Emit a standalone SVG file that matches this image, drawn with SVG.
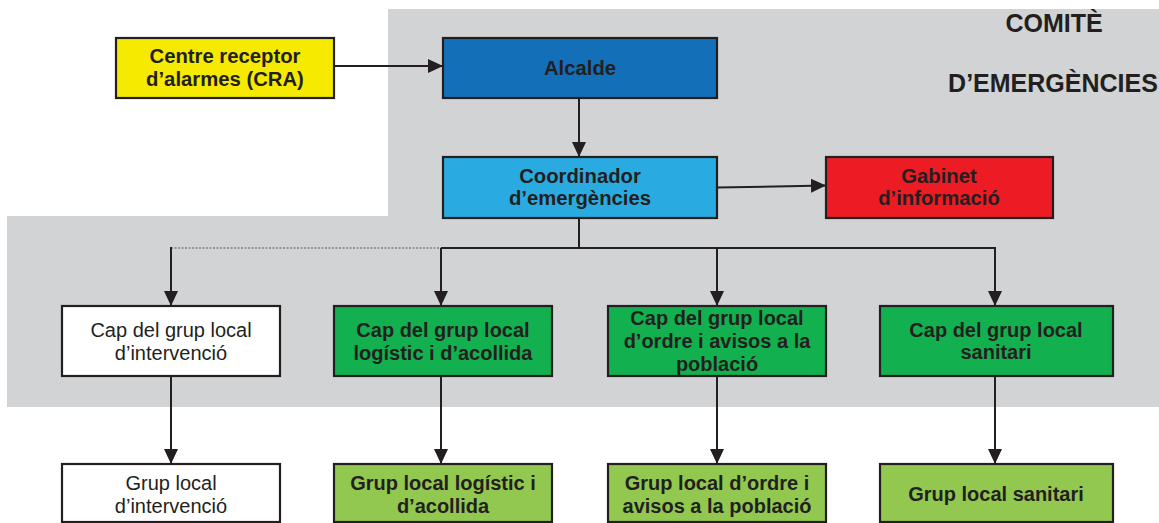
<svg xmlns="http://www.w3.org/2000/svg" width="1159" height="523" viewBox="0 0 1159 523">
<defs>
<style>
.box{stroke:#231f20;stroke-width:2.2}
.t{font-family:"Liberation Sans",Arial,sans-serif;font-weight:bold;fill:#231f20;text-anchor:middle}
.top{font-size:20.3px}
.low{font-size:20px}
.reg{font-weight:normal}
.ttl{font-size:25px}
.ln{stroke:#231f20;stroke-width:2;fill:none}
.dash{stroke:#555;stroke-width:1.2;stroke-dasharray:2 1.5;fill:none}
</style>
<marker id="ah" markerUnits="userSpaceOnUse" markerWidth="16" markerHeight="14" refX="15" refY="7" orient="auto">
<path d="M0,0 L15,7 L0,14 Z" fill="#231f20"/>
</marker>
</defs>
<rect width="1159" height="523" fill="#fff"/>
<polygon points="388,9 1159,9 1159,407 7,407 7,216 388,216" fill="#d1d3d4"/>
<g id="title">
<text class="t ttl" x="1054" y="32">COMITÈ</text>
<text class="t ttl" x="1053" y="92">D’EMERGÈNCIES</text>
</g>
<g id="connectors">
<line class="ln" x1="334" y1="66" x2="443" y2="66" marker-end="url(#ah)"/>
<line class="ln" x1="579" y1="99" x2="579" y2="157" marker-end="url(#ah)"/>
<line class="ln" x1="717" y1="187.5" x2="826" y2="185.5" marker-end="url(#ah)"/>
<polyline class="ln" points="579,218 579,248 441,248"/>
<line class="dash" x1="171" y1="248" x2="441" y2="248"/>
<line class="ln" x1="579" y1="248" x2="995" y2="248"/>
<line class="ln" x1="171" y1="247" x2="171" y2="306" marker-end="url(#ah)"/>
<line class="ln" x1="441" y1="248" x2="441" y2="306" marker-end="url(#ah)"/>
<line class="ln" x1="717" y1="248" x2="717" y2="306" marker-end="url(#ah)"/>
<line class="ln" x1="995" y1="247" x2="995" y2="306" marker-end="url(#ah)"/>
<line class="ln" x1="171" y1="376" x2="171" y2="464" marker-end="url(#ah)"/>
<line class="ln" x1="441" y1="376" x2="441" y2="464" marker-end="url(#ah)"/>
<line class="ln" x1="717" y1="376" x2="717" y2="464" marker-end="url(#ah)"/>
<line class="ln" x1="995" y1="376" x2="995" y2="464" marker-end="url(#ah)"/>
</g>
<g id="cra">
<rect class="box" x="116" y="38" width="218" height="60" fill="#f5ea00"/>
<text class="t top" x="225" y="63">Centre receptor</text>
<text class="t top" x="225" y="86">d’alarmes (CRA)</text>
</g>
<g id="alcalde">
<rect class="box" x="443" y="38" width="274" height="60" fill="#136fb8"/>
<text class="t top" x="580" y="75">Alcalde</text>
</g>
<g id="coordinador">
<rect class="box" x="443" y="157" width="274" height="61" fill="#29abe2"/>
<text class="t top" x="580" y="183">Coordinador</text>
<text class="t top" x="580" y="205">d’emergències</text>
</g>
<g id="gabinet">
<rect class="box" x="826" y="157" width="227" height="61" fill="#ed1c24"/>
<text class="t top" x="939" y="183">Gabinet</text>
<text class="t top" x="939" y="205">d’informació</text>
</g>
<g id="cap-intervencio">
<rect class="box" x="62" y="306" width="218" height="70" fill="#fff"/>
<text class="t low reg" x="171" y="337">Cap del grup local</text>
<text class="t low reg" x="171" y="360">d’intervenció</text>
</g>
<g id="cap-logistic">
<rect class="box" x="334" y="306" width="218" height="70" fill="#12b04f"/>
<text class="t low" x="443" y="337">Cap del grup local</text>
<text class="t low" x="443" y="360">logístic i d’acollida</text>
</g>
<g id="cap-ordre">
<rect class="box" x="608" y="306" width="218" height="70" fill="#12b04f"/>
<text class="t low" x="717" y="325">Cap del grup local</text>
<text class="t low" x="717" y="348">d’ordre i avisos a la</text>
<text class="t low" x="717" y="371">població</text>
</g>
<g id="cap-sanitari">
<rect class="box" x="880" y="306" width="233" height="70" fill="#12b04f"/>
<text class="t low" x="996" y="337">Cap del grup local</text>
<text class="t low" x="996" y="359">sanitari</text>
</g>
<g id="grup-intervencio">
<rect class="box" x="62" y="464" width="218" height="58" fill="#fff"/>
<text class="t low reg" x="171" y="490">Grup local</text>
<text class="t low reg" x="171" y="513">d’intervenció</text>
</g>
<g id="grup-logistic">
<rect class="box" x="334" y="464" width="218" height="58" fill="#92c84f"/>
<text class="t low" x="443" y="490">Grup local logístic i</text>
<text class="t low" x="443" y="513">d’acollida</text>
</g>
<g id="grup-ordre">
<rect class="box" x="608" y="464" width="218" height="58" fill="#92c84f"/>
<text class="t low" x="717" y="490">Grup local d’ordre i</text>
<text class="t low" x="717" y="513">avisos a la població</text>
</g>
<g id="grup-sanitari">
<rect class="box" x="880" y="464" width="233" height="58" fill="#92c84f"/>
<text class="t low" x="996" y="501">Grup local sanitari</text>
</g>
</svg>
